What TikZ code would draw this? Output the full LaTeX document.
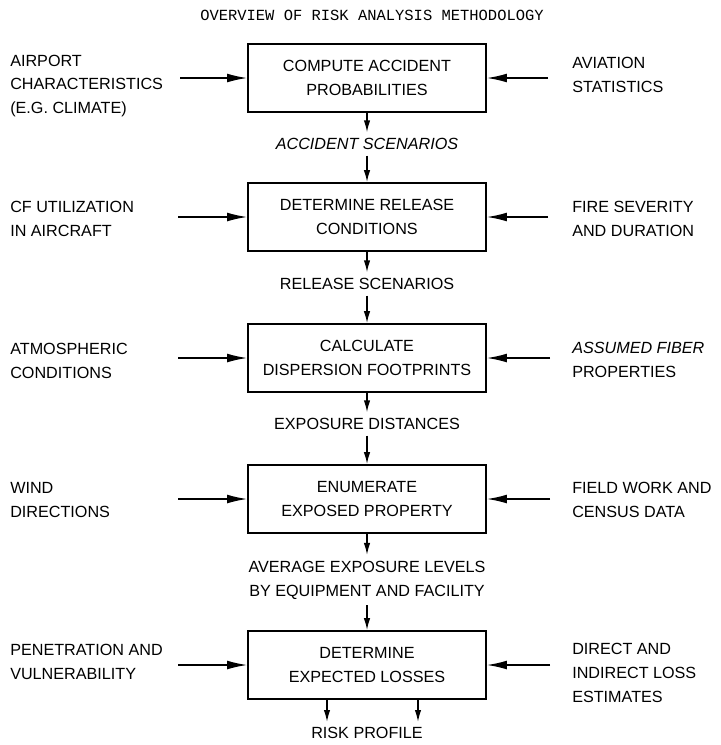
\documentclass[tikz,border=0pt]{standalone}
\usepackage{fontspec}
\setmainfont{Liberation Sans}
\setmonofont{Liberation Mono}
\usetikzlibrary{arrows.meta,positioning}

\begin{document}
\begin{tikzpicture}[
    x=0.025cm, y=-0.025cm,
    every node/.style={font=\fontsize{11.5}{17}\selectfont},
    stepbox/.style={rectangle, draw=black, line width=1.2pt, minimum width=5.95cm, minimum height=1.7cm, align=center},
    side/.style={anchor=west, align=left, inner sep=0pt},
    flowtext/.style={align=center, inner sep=4pt},
    feed/.style={-{Latex[length=5mm,width=2.2mm]}, line width=1pt},
    flow/.style={-{Latex[length=3mm,width=1.6mm]}, line width=1pt}
]
\useasboundingbox (0,0) rectangle (721,745);

% Title
\node[font=\ttfamily\fontsize{11}{13}\selectfont] (title) at (372,15) {OVERVIEW OF RISK ANALYSIS METHODOLOGY};

% Steps
\node[stepbox] (compute) at (367,78) {COMPUTE ACCIDENT\\PROBABILITIES};
\node[stepbox] (release) at (367,217) {DETERMINE RELEASE\\CONDITIONS};
\node[stepbox] (disperse) at (367,358) {CALCULATE\\DISPERSION FOOTPRINTS};
\node[stepbox] (enumerate) at (367,499) {ENUMERATE\\EXPOSED PROPERTY};
\node[stepbox] (losses) at (367,665) {DETERMINE\\EXPECTED LOSSES};

% Intermediate results
\node[flowtext] (accscen) at (367,144) {\itshape ACCIDENT SCENARIOS};
\node[flowtext] (relscen) at (367,284) {RELEASE SCENARIOS};
\node[flowtext] (expdist) at (367,424) {EXPOSURE DISTANCES};
\node[flowtext] (avgexp) at (367,580) {AVERAGE EXPOSURE LEVELS\\BY EQUIPMENT AND FACILITY};
\node[flowtext] (riskprof) at (367,733) {RISK PROFILE};

% Inputs on the left
\node[side] (airport) at (10,86) {AIRPORT\\CHARACTERISTICS\\(E.G. CLIMATE)};
\node[side] (cfuse) at (10,219) {CF UTILIZATION\\IN AIRCRAFT};
\node[side] (atmos) at (10,361) {ATMOSPHERIC\\CONDITIONS};
\node[side] (wind) at (10,500) {WIND\\DIRECTIONS};
\node[side] (penetr) at (10,662) {PENETRATION AND\\VULNERABILITY};

% Inputs on the right
\node[side] (aviation) at (572,75) {AVIATION\\STATISTICS};
\node[side] (fire) at (572,219) {FIRE SEVERITY\\AND DURATION};
\node[side] (fiber) at (572,360) {{\itshape ASSUMED FIBER}\\PROPERTIES};
\node[side] (field) at (572,500) {FIELD WORK AND\\CENSUS DATA};
\node[side] (direct) at (572,673) {DIRECT AND\\INDIRECT LOSS\\ESTIMATES};

% Arrow start points
\coordinate (airportin) at (180,78);
\coordinate (cfusein) at (178,217);
\coordinate (atmosin) at (178,358);
\coordinate (windin) at (178,499);
\coordinate (penetrin) at (178,665);
\coordinate (aviationin) at (548,78);
\coordinate (firein) at (548,217);
\coordinate (fiberin) at (550,358);
\coordinate (fieldin) at (550,499);
\coordinate (directin) at (550,665);
\coordinate (riskA) at (327,722);
\coordinate (riskB) at (418,722);

% Main flow
\draw[flow] (compute) -- (accscen);
\draw[flow] (accscen) -- (release);
\draw[flow] (release) -- (relscen);
\draw[flow] (relscen) -- (disperse);
\draw[flow] (disperse) -- (expdist);
\draw[flow] (expdist) -- (enumerate);
\draw[flow] (enumerate) -- (avgexp);
\draw[flow] (avgexp) -- (losses);
\draw[flow] (losses.south -| riskA) -- (riskA);
\draw[flow] (losses.south -| riskB) -- (riskB);

% Side inputs
\draw[feed] (airportin) -- (compute);
\draw[feed] (cfusein) -- (release);
\draw[feed] (atmosin) -- (disperse);
\draw[feed] (windin) -- (enumerate);
\draw[feed] (penetrin) -- (losses);
\draw[feed] (aviationin) -- (compute);
\draw[feed] (firein) -- (release);
\draw[feed] (fiberin) -- (disperse);
\draw[feed] (fieldin) -- (enumerate);
\draw[feed] (directin) -- (losses);

\end{tikzpicture}
\end{document}
